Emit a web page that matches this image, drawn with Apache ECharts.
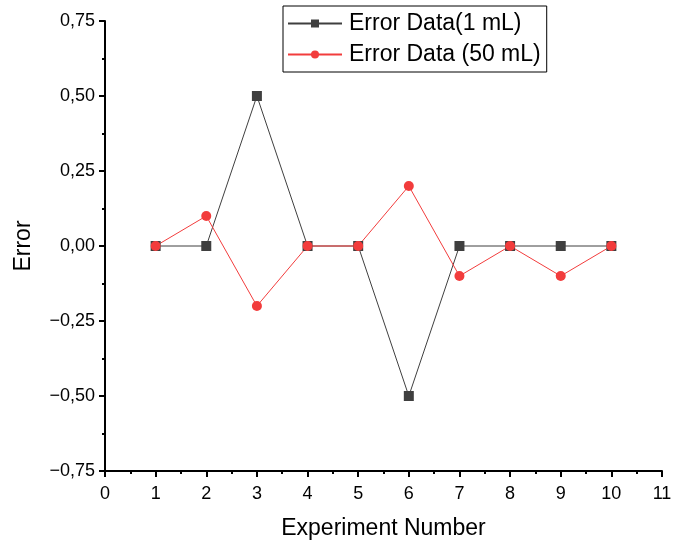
<!DOCTYPE html>
<html>
<head>
<meta charset="utf-8">
<script src="https://cdn.jsdelivr.net/npm/echarts@6/dist/echarts.min.js"></script>
<style>
html,body{margin:0;padding:0;background:#fff;}
#chart{width:688px;height:546px;}
</style>
</head>
<body>
<div id="chart"></div>
<script>
var experiments = [1, 2, 3, 4, 5, 6, 7, 8, 9, 10];
var error1mL = [0, 0, 0.5, 0, 0, -0.5, 0, 0, 0, 0];
var error50mL = [0, 0.1, -0.2, 0, 0, 0.2, -0.1, 0, -0.1, 0];

function pairs(xs, ys) {
	return xs.map(function (x, i) { return [x, ys[i]]; });
}

var myChart = echarts.init(document.getElementById('chart'));
var font = 'Liberation Sans, Arial, sans-serif';

var option = {
	animation: false,
	grid: { left: 105, right: 26, top: 21, bottom: 75, containLabel: false, outerBoundsMode: 'none' },
	legend: {
		orient: 'vertical',
		left: 283,
		top: 6,
		padding: [6, 6, 6, 4],
		itemGap: 8,
		itemWidth: 54,
		itemHeight: 10,
		borderColor: '#000',
		borderWidth: 1,
		textStyle: { fontFamily: font, fontSize: 23, color: '#000', padding: [0, 0, 0, 2] },
		data: ['Error Data(1 mL)', 'Error Data (50 mL)']
	},
	xAxis: {
		type: 'value',
		min: 0, max: 11, interval: 1,
		name: 'Experiment Number',
		nameLocation: 'middle',
		nameGap: 46,
		nameTextStyle: { fontFamily: font, fontSize: 23, color: '#000' },
		axisLine: { onZero: false, lineStyle: { color: '#000', width: 2 } },
		axisTick: { inside: false, length: 6, lineStyle: { color: '#000', width: 2 } },
		minorTick: { show: true, splitNumber: 2, length: 3, lineStyle: { color: '#000', width: 2 } },
		axisLabel: { fontFamily: font, fontSize: 18, color: '#000', margin: 14 },
		splitLine: { show: false }
	},
	yAxis: {
		type: 'value',
		min: -0.75, max: 0.75, interval: 0.25,
		name: 'Error',
		nameLocation: 'middle',
		nameGap: 70,
		nameTextStyle: { fontFamily: font, fontSize: 23, color: '#000' },
		axisLine: { onZero: false, lineStyle: { color: '#000', width: 2 } },
		axisTick: { inside: false, length: 6, lineStyle: { color: '#000', width: 2 } },
		minorTick: { show: true, splitNumber: 2, length: 3, lineStyle: { color: '#000', width: 2 } },
		axisLabel: {
			fontFamily: font, fontSize: 18, color: '#000', margin: 10,
			formatter: function (v) {
				var s = Math.abs(v).toFixed(2).replace('.', ',');
				return v < 0 ? '\u2212' + s : s;
			}
		},
		splitLine: { show: false }
	},
	series: [
		{
			name: 'Error Data(1 mL)',
			type: 'line',
			data: pairs(experiments, error1mL),
			symbol: 'rect',
			symbolSize: 10,
			color: '#3f3f3f',
			lineStyle: { width: 1, color: '#3f3f3f' },
			itemStyle: { color: '#3f3f3f' }
		},
		{
			name: 'Error Data (50 mL)',
			type: 'line',
			data: pairs(experiments, error50mL),
			symbol: 'circle',
			symbolSize: 10,
			color: '#f23c3c',
			lineStyle: { width: 1, color: '#f23c3c' },
			itemStyle: { color: '#f23c3c' }
		}
	]
};
option && myChart.setOption(option);
</script>
</body>
</html>
